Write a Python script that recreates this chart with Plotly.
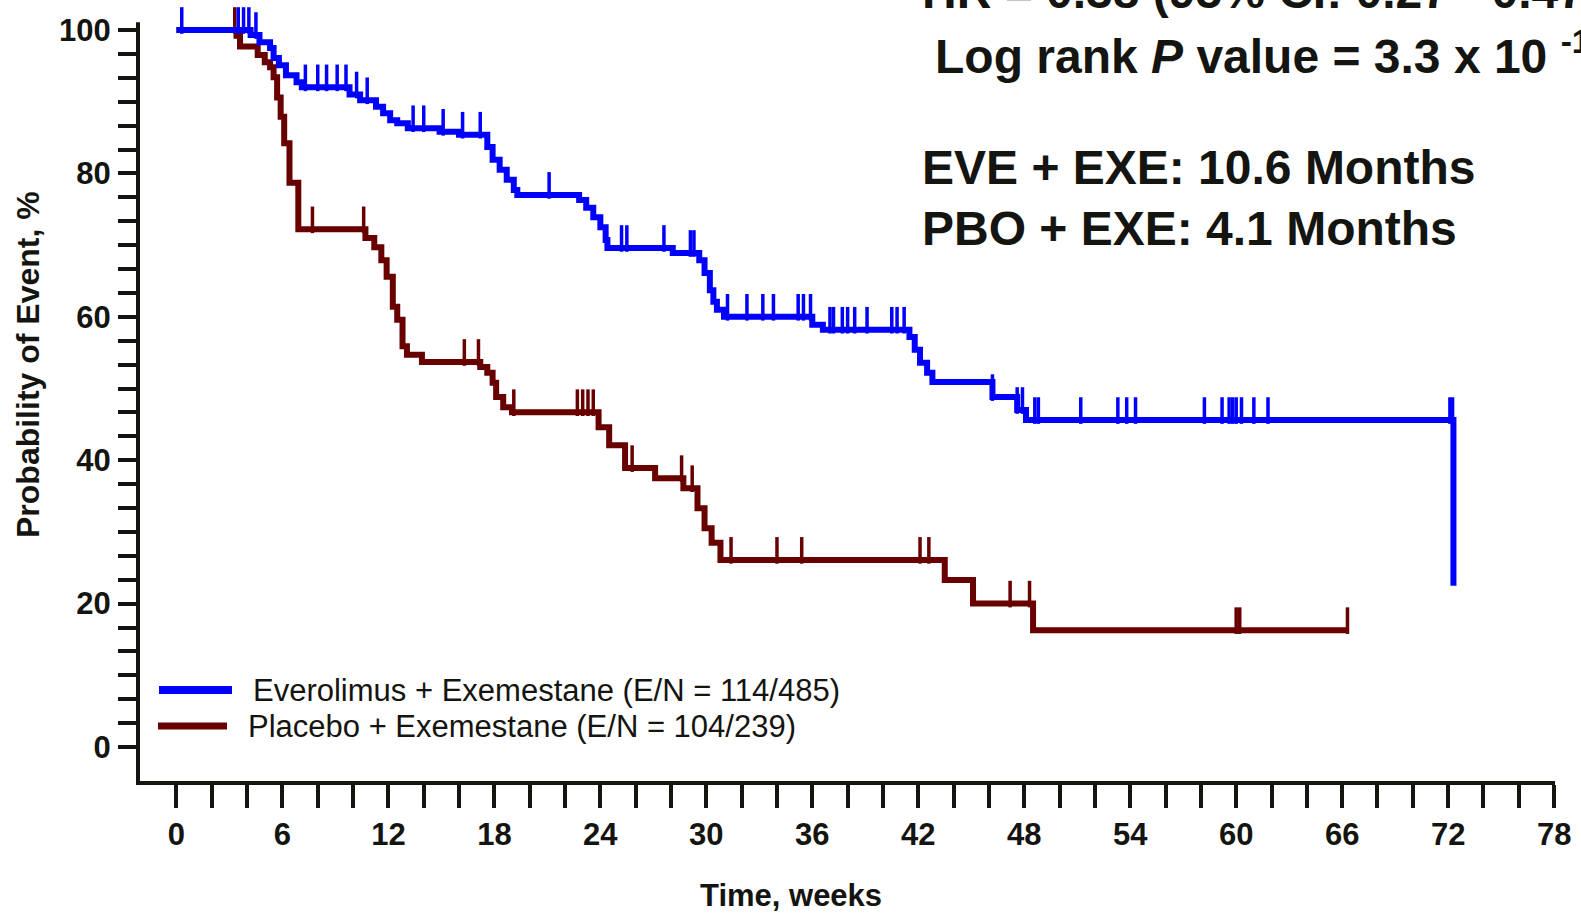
import plotly.graph_objects as go

# Kaplan-Meier step data (weeks, % without event) for each arm
EVE_T = [0, 4.2, 4.7, 5.3, 5.5, 5.8, 6.2, 6.8, 7.1, 9.8, 10.4, 11.3, 11.7, 12.1,
         12.5, 13.1, 14.9, 16.0, 17.6, 17.9, 18.3, 18.7, 19.1, 19.3, 22.8, 23.2,
         23.6, 24.0, 24.3, 24.4, 28.1, 29.6, 29.9, 30.2, 30.4, 30.6, 31.0, 36.0,
         36.6, 41.5, 41.8, 42.1, 42.5, 42.8, 46.2, 47.6, 48.1, 72.3]
EVE_S = [100, 99.3, 98.3, 97.5, 96.1, 95.1, 93.7, 92.7, 92.0, 91.0, 90.2, 89.3,
         88.4, 87.4, 87.0, 86.3, 85.8, 85.4, 83.7, 81.9, 80.5, 79.1, 77.7, 77.0,
         76.3, 75.2, 73.9, 72.5, 70.7, 69.6, 68.9, 67.9, 66.1, 63.7, 62.1, 61.0,
         60.0, 58.9, 58.2, 57.2, 55.4, 53.6, 52.2, 50.9, 48.8, 47.0, 45.6, 22.5]
EVE_CENSOR = [0.3, 3.5, 3.8, 4.1, 4.5, 7.3, 8.0, 8.5, 9.1, 9.6, 10.2, 10.8, 13.4,
              14.0, 15.1, 16.2, 17.2, 21.1, 25.2, 25.5, 27.6, 29.1, 29.3, 31.2,
              32.3, 33.2, 33.8, 35.2, 35.5, 35.9, 37.0, 37.2, 37.7, 38.0, 38.4,
              39.1, 40.5, 40.8, 41.2, 46.2, 47.6, 47.9, 48.6, 48.8, 51.2, 53.3,
              53.8, 54.3, 58.2, 59.2, 59.6, 59.8, 60.0, 60.3, 61.0, 61.8, 72.1,
              72.25]

PBO_T = [0, 3.4, 3.6, 4.6, 5.0, 5.3, 5.5, 5.7, 5.9, 6.1, 6.4, 6.9, 10.7, 11.2,
         11.6, 11.9, 12.25, 12.5, 12.8, 13.05, 13.9, 17.2, 17.6, 17.9, 18.1, 18.5,
         19.0, 23.9, 24.5, 25.4, 27.1, 28.7, 29.5, 29.9, 30.3, 30.8, 43.5, 45.1,
         48.5, 66.3]
PBO_S = [100, 99.2, 97.7, 96.5, 95.5, 94.8, 93.4, 90.6, 87.9, 84.2, 78.7, 72.2,
         71.0, 69.7, 67.9, 65.6, 61.4, 59.6, 55.9, 54.7, 53.7, 53.0, 52.2, 50.8,
         48.8, 47.4, 46.7, 44.6, 42.1, 38.9, 37.5, 36.1, 33.3, 30.5, 28.5, 26.1,
         23.3, 20.0, 16.3, 16.3]
PBO_CENSOR = [3.3, 7.7, 10.6, 16.3, 17.1, 19.1, 22.7, 23.0, 23.3, 23.6, 25.8,
              28.6, 29.2, 31.4, 34.0, 35.4, 42.1, 42.6, 47.2, 48.3, 60.0, 60.2,
              66.3]

X_TICKS = list(range(0, 79, 2))
X_LABEL_STEP = 6
Y_TICKS = [i * 10 / 3 for i in range(31)]
Y_LABEL_STEP = 20

EVE_NAME = "Everolimus + Exemestane (E/N = 114/485)"
PBO_NAME = "Placebo + Exemestane (E/N = 104/239)"
EVE_COLOR = "#0000FF"
PBO_COLOR = "#680000"
INK = "#141410"
FONT = "Liberation Sans, Arial, sans-serif"

W, H = 1581, 916
M_L, M_R, M_T, M_B = 139, 26, 1, 135
X_RANGE = [-2.12, 78.05]
PLOT_H = H - M_T - M_B
PX_PER_PCT = 7.17
Y_RANGE = [-4.74, -4.74 + PLOT_H / PX_PER_PCT]
Y_AXIS_TOP = 101.1          # the drawn y axis line stops just above 100 %
CENSOR_PX = 19


def surv_at(times, surv, t):
    """Value of the step curve at time t."""
    val = surv[0]
    for ti, si in zip(times, surv):
        if ti <= t:
            val = si
        else:
            break
    return val


def censor_marks(times, surv, cens):
    """Censor ticks rise from the curve: marker centred half a tick above it."""
    half = CENSOR_PX / 2 / PX_PER_PCT
    return cens, [surv_at(times, surv, c) + half for c in cens]


fig = go.Figure()

for t, s, c, col in [(PBO_T, PBO_S, PBO_CENSOR, PBO_COLOR),
                     (EVE_T, EVE_S, EVE_CENSOR, EVE_COLOR)]:
    fig.add_trace(go.Scatter(x=t, y=s, mode="lines", line_shape="hv",
                             line=dict(color=col, width=6), showlegend=False,
                             hoverinfo="skip"))
    cx, cy = censor_marks(t, s, c)
    fig.add_trace(go.Scatter(x=cx, y=cy, mode="markers", cliponaxis=False,
                             marker=dict(symbol="line-ns", size=CENSOR_PX,
                                         line=dict(color=col, width=3.5)),
                             showlegend=False, hoverinfo="skip"))

tick_font = dict(family=FONT, size=31, color=INK, weight="bold")

fig.update_xaxes(range=X_RANGE, tickmode="array", tickvals=X_TICKS,
                 ticktext=[str(v) if v % X_LABEL_STEP == 0 else "" for v in X_TICKS],
                 ticks="outside", ticklen=23, tickwidth=4, tickcolor=INK,
                 showline=True, linewidth=4, linecolor=INK, showgrid=False,
                 zeroline=False, tickfont=tick_font, ticklabelstandoff=0)
fig.update_yaxes(range=Y_RANGE, tickmode="array", tickvals=Y_TICKS,
                 ticktext=[str(round(v)) if round(v) % Y_LABEL_STEP == 0 and abs(v - round(v)) < 1e-6 else ""
                           for v in Y_TICKS],
                 ticks="outside", ticklen=20, tickwidth=4, tickcolor=INK,
                 showline=False, showgrid=False,
                 zeroline=False, tickfont=tick_font, ticklabelstandoff=1)


def px_x(px):
    return (px - M_L) / (W - M_L - M_R)


def px_y(py):
    return (H - M_B - py) / PLOT_H


def y_px(val):
    return H - M_B - (val - Y_RANGE[0]) * PX_PER_PCT


ann = []
big = dict(family=FONT, size=48, color=INK, weight="bold")
for text, x, y in [
    ("HR = 0.38 (95% CI: 0.27 - 0.47)", 920, -9),
    ("Log rank <i>P</i> value = 3.3 x 10 <sup>-15</sup>", 933, 53),
    ("EVE + EXE: 10.6 Months", 920, 167),
    ("PBO + EXE: 4.1 Months", 920, 229),
]:
    ann.append(dict(text=text, xref="paper", yref="paper", x=px_x(x), y=px_y(y),
                    xanchor="left", yanchor="middle", showarrow=False, font=big))

axis_font = dict(family=FONT, size=31, color=INK, weight="bold")
ann.append(dict(text="Time, weeks", xref="paper", yref="paper", x=px_x(791),
                y=px_y(896), xanchor="center", yanchor="middle", showarrow=False,
                font=axis_font))
ann.append(dict(text="Probability of Event, %", xref="paper", yref="paper",
                x=px_x(28), y=px_y(365), xanchor="center", yanchor="middle",
                textangle=-90, showarrow=False,
                font=dict(family=FONT, size=32, color=INK, weight="bold")))

shapes = []
# y axis line, stopping a little above the 100 % tick
shapes.append(dict(type="line", xref="paper", yref="paper",
                   x0=px_x(M_L - 1), x1=px_x(M_L - 1),
                   y0=px_y(H - M_B + 4), y1=px_y(y_px(Y_AXIS_TOP)),
                   line=dict(color=INK, width=4)))

# legend drawn as swatch lines plus labels
legend_font = dict(family=FONT, size=31, color=INK)
for name, col, x0, x1, xt, y, lw in [
    (EVE_NAME, EVE_COLOR, 159, 232, 251, 690, 8),
    (PBO_NAME, PBO_COLOR, 158, 227, 246, 726, 7),
]:
    shapes.append(dict(type="line", xref="paper", yref="paper", x0=px_x(x0),
                       x1=px_x(x1), y0=px_y(y), y1=px_y(y),
                       line=dict(color=col, width=lw)))
    ann.append(dict(text=name, xref="paper", yref="paper", x=px_x(xt), y=px_y(y),
                    xanchor="left", yanchor="middle", showarrow=False,
                    font=legend_font))

fig.update_layout(width=W, height=H, margin=dict(l=M_L, r=M_R, t=M_T, b=M_B),
                  paper_bgcolor="white", plot_bgcolor="white",
                  annotations=ann, shapes=shapes, showlegend=False)

fig.write_html("out.html")
